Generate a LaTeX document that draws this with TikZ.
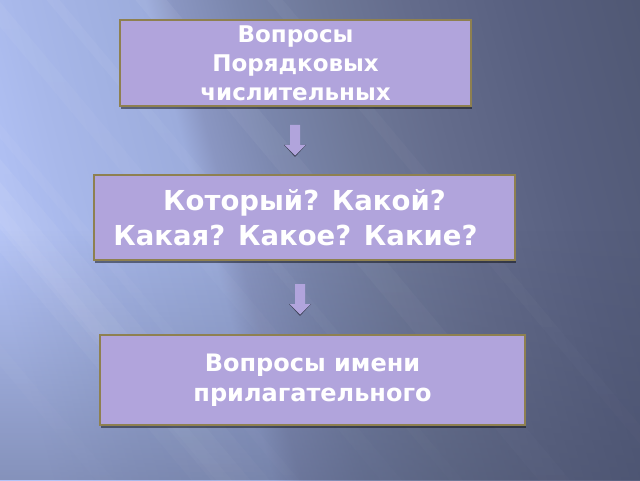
\documentclass[tikz,border=0pt]{standalone}
\usepackage{fontspec}
\setmainfont{DejaVu Sans}
\usetikzlibrary{shadows,fadings}
\definecolor{boxfill}{HTML}{B1A4DC}
\definecolor{boxline}{HTML}{8E8050}
\definecolor{bgdark}{HTML}{3E4660}
\definecolor{sA}{HTML}{B4C4F8}
\definecolor{sB}{HTML}{A8B8EA}
\definecolor{sC}{HTML}{9CACDC}
\definecolor{sD}{HTML}{8A96C2}
\definecolor{sE}{HTML}{7A86AC}
\definecolor{sF}{HTML}{6E7898}
\definecolor{sG}{HTML}{646C8C}
\definecolor{sH}{HTML}{586080}
\definecolor{sI}{HTML}{505874}
\definecolor{arrshadow}{HTML}{3E4258}
\pgfdeclarehorizontalshading{bgshade}{100bp}{color(0bp)=(sA); color(32bp)=(sA); color(37bp)=(sB); color(44bp)=(sC); color(45.5bp)=(sD); color(49bp)=(sE); color(53.5bp)=(sF); color(58bp)=(sG); color(64bp)=(sH); color(70.6bp)=(sI); color(100bp)=(sI)}
\tikzfading[name=fadeup, top color=transparent!100, bottom color=transparent!60]
\tikzfading[name=streakfade, top color=transparent!0, bottom color=transparent!85]
\tikzset{
  qbox/.style={rectangle, fill=boxfill, draw=boxline, line width=2pt, text=white,
    align=center, inner sep=0pt,
    drop shadow={shadow xshift=1pt, shadow yshift=-3pt, fill=black, opacity=0.45}},
  blockarrow/.style={fill=boxfill}
}
% streak: centre p, width w, opacity o ; lines at -50 degrees
\newcommand\mystreak[3]{%
  \fill[white, fill opacity=#3, path fading=streakfade]
    ({(#1-#2/2+32.15)/0.766},-50) -- ({(#1+#2/2+32.15)/0.766},-50)
    -- ({(#1+#2/2-340.8)/0.766},530) -- ({(#1-#2/2-340.8)/0.766},530) -- cycle;}
\begin{document}
\begin{tikzpicture}[x=1pt,y=1pt]
\useasboundingbox (0,0) rectangle (640,480);
\begin{scope}
\clip (0,0) rectangle (640,480);
% background gradient, tilted
\shade[shading=bgshade, shading angle=15] (-130,-210) rectangle (770,690);
% darker towards the bottom
\fill[bgdark, path fading=fadeup] (0,0) rectangle (640,250);
% soft light streaks
\mystreak{81}{14}{0.06}
\mystreak{177}{60}{0.09}
\mystreak{177}{30}{0.10}
\mystreak{172}{12}{0.08}
\mystreak{225}{9}{0.06}
\mystreak{300}{16}{0.05}
\mystreak{350}{10}{0.05}
\mystreak{425}{24}{0.06}
\mystreak{520}{12}{0.04}
\end{scope}
% boxes
\node[qbox, minimum width=351pt, minimum height=86pt,
  font=\bfseries\fontsize{23}{29}\selectfont] (b1) at (295.5,417)
  {Вопросы\\Порядковых\\числительных};
\node[qbox, minimum width=421pt, minimum height=85pt,
  font=\bfseries\fontsize{27.5}{35}\selectfont] (b2) at (304.5,262.5)
  {Который? Какой?\\Какая? Какое? Какие?\hspace*{18pt}};
\node[qbox, minimum width=425pt, minimum height=90pt,
  font=\bfseries\fontsize{24}{30}\selectfont] (b3) at (312.5,100)
  {Вопросы имени\\прилагательного};
% block arrows
\coordinate (a1) at (295,355);
\coordinate (a2) at (300,196);
\foreach \a in {a1,a2}{
  \fill[arrshadow] ([xshift=-11pt,yshift=-20pt]\a) -- ([xshift=11pt,yshift=-20pt]\a)
    -- ([yshift=-32pt]\a) -- cycle;
  \fill[blockarrow] ([xshift=-5pt]\a) -- ([xshift=5pt]\a) -- ([xshift=5pt,yshift=-20pt]\a)
    -- ([xshift=10.5pt,yshift=-20pt]\a) -- ([yshift=-30.5pt]\a) -- ([xshift=-10.5pt,yshift=-20pt]\a)
    -- ([xshift=-5pt,yshift=-20pt]\a) -- cycle;
}
\end{tikzpicture}
\end{document}
